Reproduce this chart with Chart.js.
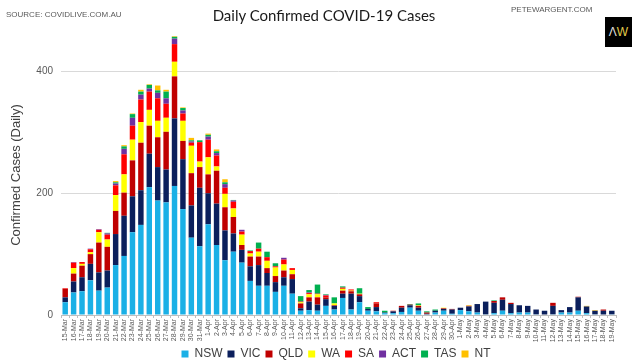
<!DOCTYPE html>
<html>
<head>
<meta charset="utf-8">
<script src="https://cdn.jsdelivr.net/npm/chart.js@4.4.0/dist/chart.umd.min.js"></script>
<style>
  body { margin: 0; background: #fff; }
  #wrap { position: relative; width: 640px; height: 364px; }
  .note { position: absolute; font-family: 'Liberation Sans', Arial, sans-serif; font-size: 8px; color: #595959; white-space: nowrap; }
  #title { position: absolute; left: 124px; width: 400px; top: 6px; text-align: center; white-space: nowrap;
           font: 15px Lato, sans-serif; color: #1a1a1a; }
  #logo { position: absolute; left: 605px; top: 17px; width: 27px; height: 30px; background: #000;
          font: 12px 'Liberation Sans', Arial, sans-serif; text-align: center; line-height: 30px; }
</style>
</head>
<body>
<div id="wrap">
  <canvas id="myChart"></canvas>
  <div class="note" style="left:6px;top:10px">SOURCE: COVIDLIVE.COM.AU</div>
  <div id="title">Daily Confirmed COVID-19 Cases</div>
  <div class="note" style="left:511px;top:5px">PETEWARGENT.COM</div>
  <div id="logo"><span style="color:#ddd">Λ</span><span style="color:#e3cc4a">W</span></div>
</div>
<script>
  const days = ['15-Mar','16-Mar','17-Mar','18-Mar','19-Mar','20-Mar','21-Mar','22-Mar','23-Mar','24-Mar',
    '25-Mar','26-Mar','27-Mar','28-Mar','29-Mar','30-Mar','31-Mar',
    '1-Apr','2-Apr','3-Apr','4-Apr','5-Apr','6-Apr','7-Apr','8-Apr','9-Apr','10-Apr',
    '11-Apr','12-Apr','13-Apr','14-Apr','15-Apr','16-Apr','17-Apr','18-Apr','19-Apr','20-Apr',
    '21-Apr','22-Apr','23-Apr','24-Apr','25-Apr','26-Apr','27-Apr','28-Apr','29-Apr','30-Apr',
    '1-May','2-May','3-May','4-May','5-May','6-May','7-May','8-May','9-May','10-May',
    '11-May','12-May','13-May','14-May','15-May','16-May','17-May','18-May','19-May'];

  const nsw = [21,37,39,57,40,45,82,97,136,148,210,188,185,212,174,127,113,
    149,115,90,104,86,56,48,48,38,48, 35,7,8,7,15,9,28,9,21,7, 6,3,3,5,12,7,1,4,7,2,
    8,6,4,1,3,7,3,4,4,1, 0,1,4,4,7,3,1,0,1];
  const vic = [8,18,23,27,30,28,51,66,59,57,55,55,54,111,82,53,96,
    51,68,49,30,21,24,34,21,16,14, 24,4,14,10,11,6,7,26,10,3, 7,1,3,7,4,5,1,3,3,7,
    4,8,14,21,17,18,15,12,11,8, 7,14,4,9,22,11,6,7,6];
  const qld = [14,13,19,16,49,39,38,38,59,78,46,49,62,69,30,53,34,
    31,54,38,27,8,16,14,8,10,11, 8,8,7,12,3,1,5,4,3,0, 6,0,1,3,1,3,2,0,1,1,
    0,1,0,0,3,4,2,0,0,0, 0,5,0,0,1,0,0,2,0];
  const wa = [0,9,3,3,17,12,26,30,34,34,26,27,23,24,33,45,9,
    28,7,22,14,17,5,8,12,14,10, 7,2,5,5,0,3,3,1,1,0, 0,0,0,0,0,1,0,0,1,0,
    0,0,0,0,0,0,0,0,0,0, 0,0,0,0,0,0,0,0,0];
  const sa = [1,9,3,5,4,8,16,33,23,37,30,37,23,29,12,5,32,
    29,18,10,11,5,4,5,6,2,8, 3,1,2,1,3,0,2,2,0,0, 2,0,0,0,0,0,0,0,0,0,
    0,0,0,0,0,0,0,0,0,0, 0,0,0,0,0,0,0,0,0];
  const act = [0,1,0,1,1,2,3,9,13,8,5,9,9,9,5,2,0,
    5,4,6,2,3,0,0,0,0,3, 0,0,1,0,1,0,0,0,0,0, 0,0,0,0,0,0,0,0,0,0,
    0,0,0,0,0,0,0,0,0,0, 0,0,0,0,0,0,0,0,0];
  const tas = [0,0,0,0,0,1,2,4,6,5,6,4,11,3,4,2,3,
    3,3,3,1,0,1,10,9,5,0, 0,9,4,15,1,10,2,0,9,3, 0,3,0,0,1,3,2,2,0,0,
    0,0,0,0,1,0,0,0,0,0, 0,0,0,0,0,0,0,0,0];
  const nt = [0,0,0,0,0,0,2,2,1,3,1,8,3,1,1,4,0,
    2,3,5,0,0,0,0,0,0,0, 0,0,0,0,0,0,0,0,0,0, 0,0,0,0,0,0,0,0,0,0,
    0,1,0,0,0,0,0,0,0,0, 0,0,0,0,0,1,1,0,0];

  const yTicks = [0, 200, 400];

  Chart.defaults.font.family = "'Liberation Sans', Arial, sans-serif";
  Chart.defaults.color = '#595959';

  // legend: fixed height, nudged right to sit where the original one is
  const legendFix = {
    id: 'legendFix',
    afterInit(chart) {
      const lg = chart.legend;
      const fit = lg.fit;
      lg.fit = function() { fit.call(this); this.height = 21; };
    },
    afterLayout(chart) {
      chart.legend.left += 28;
      chart.legend.right += 28;
    }
  };

  const ctx = document.getElementById('myChart');
  new Chart(ctx, {
    type: 'bar',
    data: {
      labels: days,
      datasets: [
        { label: 'NSW', data: nsw, backgroundColor: '#1ab0e6' },
        { label: 'VIC', data: vic, backgroundColor: '#0b1f5c' },
        { label: 'QLD', data: qld, backgroundColor: '#c00000' },
        { label: 'WA',  data: wa,  backgroundColor: '#ffff00' },
        { label: 'SA',  data: sa,  backgroundColor: '#ff0000' },
        { label: 'ACT', data: act, backgroundColor: '#7030a0' },
        { label: 'TAS', data: tas, backgroundColor: '#00b050' },
        { label: 'NT',  data: nt,  backgroundColor: '#ffc000' }
      ]
    },
    plugins: [legendFix],
    options: {
      responsive: true,
      maintainAspectRatio: false,
      animation: false,
      layout: { padding: { left: 0, right: 24, top: 35, bottom: 0 } },
      datasets: { bar: { barPercentage: 0.65, categoryPercentage: 1, borderWidth: 0 } },
      scales: {
        x: {
          stacked: true,
          grid: { display: true, drawOnChartArea: false, drawTicks: true, tickLength: 3, color: '#bfbfbf' },
          border: { display: true, color: '#bfbfbf' },
          ticks: { autoSkip: false, maxRotation: 90, minRotation: 90, padding: 1, font: { size: 7 }, color: '#595959' },
          afterFit: function(scale) { scale.height = 28; }
        },
        y: {
          stacked: true,
          min: 0,
          max: 460,
          afterBuildTicks: function(axis) { axis.ticks = yTicks.map(v => ({ value: v })); },
          afterFit: function(scale) { scale.width = 61; },
          grid: { color: '#d9d9d9', drawTicks: false },
          border: { display: false },
          ticks: { padding: 8, font: { size: 10 }, color: '#595959' },
          title: { display: true, text: 'Confirmed Cases (Daily)', color: '#404040', font: { size: 13 }, padding: { top: 9, bottom: 0 } }
        }
      },
      plugins: {
        title: { display: false },
        legend: {
          position: 'bottom',
          labels: { boxWidth: 7, boxHeight: 7, padding: 5, font: { size: 12 }, color: '#404040' }
        },
        tooltip: { enabled: false }
      }
    }
  });
</script>
</body>
</html>
